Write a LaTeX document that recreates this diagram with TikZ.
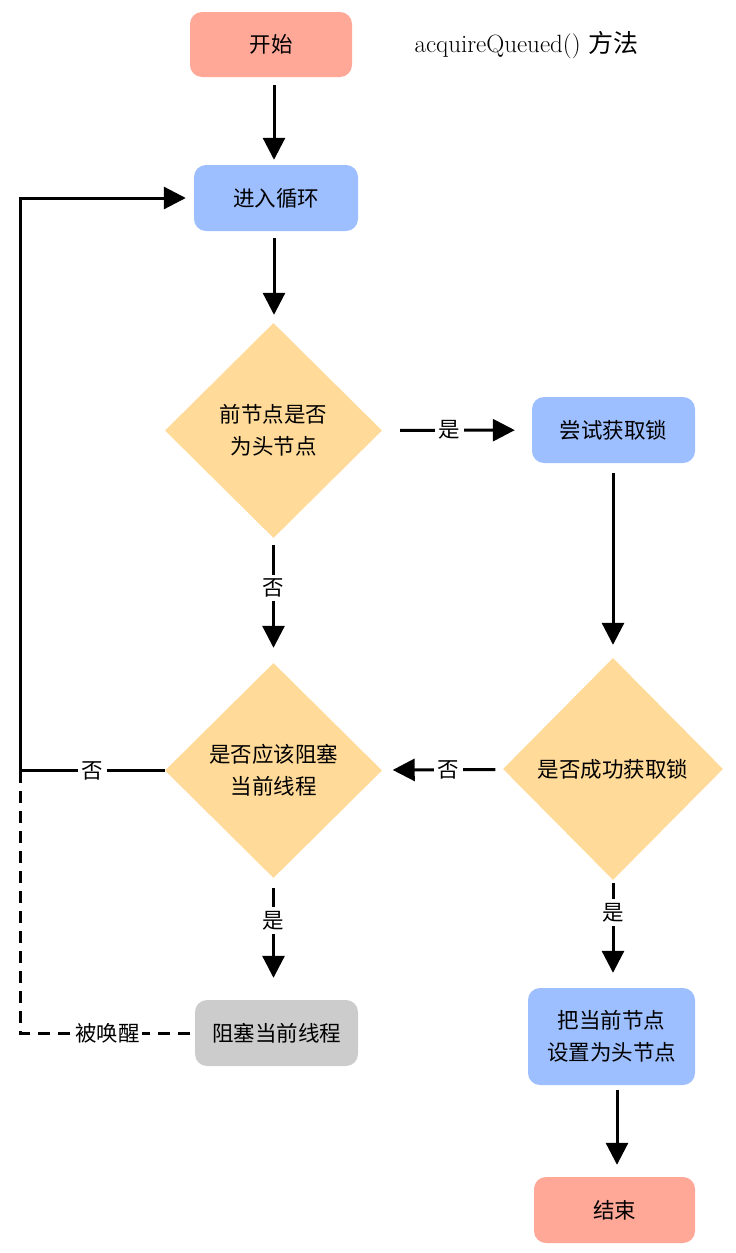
\documentclass[tikz,border=0pt]{standalone}
\usepackage{fontspec}
\newfontfamily\cjk{Noto Sans CJK SC}
\usetikzlibrary{shapes.geometric,arrows.meta}
\definecolor{cred}{RGB}{255,168,152}
\definecolor{cblue}{RGB}{157,190,255}
\definecolor{cgray}{RGB}{204,204,204}
\definecolor{cyel}{RGB}{255,218,153}
\tikzset{
  txt/.style={font=\cjk\fontsize{21.5}{32}\selectfont, align=center, text=black},
  box/.style={txt, rounded corners=12pt, draw=none, inner sep=0pt},
  dia/.style={txt, diamond, fill=cyel, draw=none, inner sep=0pt},
  arr/.style={line width=3pt, -{Triangle[length=22pt,width=22pt]}},
  lbl/.style={txt, fill=white, inner sep=4pt},
}
\begin{document}
\begin{tikzpicture}[x=1pt,y=-1pt]
\useasboundingbox (0,0) rectangle (736,1253);
\node[box,fill=cred,minimum width=162pt,minimum height=65pt] (start) at (271,44.5) {开始};
\node[anchor=west,font=\fontsize{25}{28}\selectfont] (title) at (411,45) {acquireQueued() {\cjk 方法}};
\node[box,fill=cblue,minimum width=164pt,minimum height=66pt] (loop) at (276,198) {进入循环};
\node[dia,minimum width=217pt,minimum height=215pt] (d1) at (273.5,430.5) {前节点是否\\为头节点};
\node[box,fill=cblue,minimum width=163pt,minimum height=66pt] (try) at (613.5,430) {尝试获取锁};
\node[dia,minimum width=220pt,minimum height=222pt] (d2) at (613,769) {是否成功获取锁};
\node[dia,minimum width=217pt,minimum height=215pt] (d3) at (273.5,770.5) {是否应该阻塞\\当前线程};
\node[box,fill=cgray,minimum width=163pt,minimum height=66pt] (block) at (276.5,1033) {阻塞当前线程};
\node[box,fill=cblue,minimum width=167pt,minimum height=97pt] (set) at (611.5,1036.5) {把当前节点\\设置为头节点};
\node[box,fill=cred,minimum width=161pt,minimum height=66pt] (end) at (614.5,1210) {结束};
\coordinate (L) at (20,770.5);
\coordinate (c1) at (274,0);
\coordinate (c2) at (617,0);

\draw[arr,shorten <=8pt,shorten >=5pt] (start.south -| c1) -- (loop.north -| c1);
\draw[arr,shorten <=7pt,shorten >=8pt] (loop.south -| c1) -- (d1.north -| c1);
\draw[arr,shorten <=18pt,shorten >=17pt] (d1) -- node[lbl,pos=0.45]{是} (try);
\draw[arr,shorten <=10pt,shorten >=13pt] (try.south -| d2) -- (d2);
\draw[arr,shorten <=7pt,shorten >=15pt] (d1) -- node[lbl,pos=0.4]{否} (d3);
\draw[arr,shorten <=8pt,shorten >=11pt] (d2) -- node[lbl,pos=0.45]{否} (d3);
\draw[arr,shorten <=3pt,shorten >=15pt] (d2) -- node[lbl,pos=0.3]{是} (set.north -| d2);
\draw[arr,shorten <=10pt,shorten >=22pt] (d3) -- node[lbl,pos=0.35]{是} (block.north -| d3);
\draw[arr,shorten <=5pt,shorten >=12pt] (set.south -| c2) -- (end.north -| c2);
\draw[arr,shorten >=8pt] (d3.west) -- node[lbl]{否} (L) |- (loop.west);
\draw[line width=3pt,dash pattern=on 12pt off 8pt,shorten <=5pt] (block.west) -- node[lbl,inner sep=2pt]{被唤醒} (block.west -| L) -- (L);
\end{tikzpicture}
\end{document}
